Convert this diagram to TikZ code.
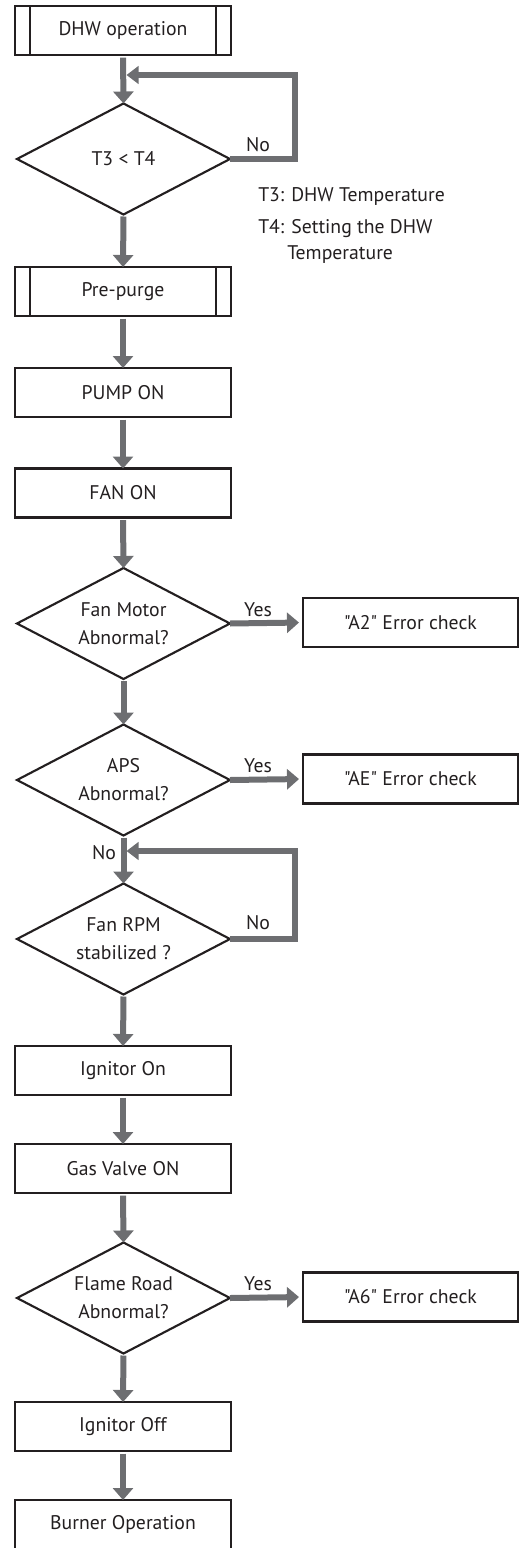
\documentclass[tikz,border=0pt]{standalone}
\usepackage{fontspec}
\setmainfont{PT Sans}[Ligatures=TeXOff]
\usetikzlibrary{shapes.geometric,arrows.meta,calc}
\definecolor{arrgray}{RGB}{109,110,113}
\definecolor{txt}{RGB}{35,31,32}
\begin{document}
\begin{tikzpicture}[x=0.75pt,y=-0.75pt,
  font=\fontsize{14.8pt}{21pt}\selectfont, text=txt,
  procbox/.style={draw=txt,line width=1.6pt,minimum width=162pt,minimum height=36.75pt,inner sep=0pt,outer sep=0pt,fill=white},
  errbox/.style={draw=txt,line width=1.6pt,minimum width=161.25pt,minimum height=36.75pt,inner sep=0pt,outer sep=0pt},
  predef/.style={procbox,
    append after command={
      \pgfextra{\let\mynode\tikzlastnode}
      ($(\mynode.north west)+(15,0)$) edge[draw=txt,line width=1.6pt] ($(\mynode.south west)+(15,0)$)
      ($(\mynode.north east)+(-15,0)$) edge[draw=txt,line width=1.6pt] ($(\mynode.south east)+(-15,0)$)
    }},
  decision/.style={diamond,draw=txt,line width=1.6pt,aspect=1.92,minimum width=159.75pt,minimum height=83.25pt,inner sep=0pt,outer sep=0pt,align=center},
  arr/.style={draw=arrgray,line width=4.5pt,-{Triangle[width=15pt,length=9pt]}},
  loopline/.style={draw=arrgray,line width=4.5pt,line join=miter,-{Triangle[width=13pt,length=9pt]}},
  lbl/.style={inner sep=0pt},
  note/.style={inner sep=0pt,anchor=west}
]
\useasboundingbox (0,0) rectangle (521,1548);

\node[predef] (dhw) at (123,30.5) {DHW operation};
\node[decision] (d1) at (123.5,159) {T3 < T4};
\node[predef] (pre) at (123,291.5) {Pre-purge};
\node[procbox] (pump) at (123,392.5) {PUMP ON};
\node[procbox] (fan) at (123,493) {FAN ON};
\node[decision] (d2) at (123.5,623.5) {Fan Motor\\Abnormal?};
\node[errbox] (a2) at (410.5,622.5) {"A2" Error check};
\node[decision] (d3) at (123.5,780) {APS\\Abnormal?};
\node[errbox] (ae) at (410.5,779) {"AE" Error check};
\node[decision] (d4) at (123.5,939) {Fan RPM\\stabilized ?};
\node[procbox] (ign) at (123,1070.5) {Ignitor On};
\node[procbox] (gas) at (123,1168.5) {Gas Valve ON};
\node[decision] (d5) at (123.5,1298) {Flame Road\\Abnormal?};
\node[errbox] (a6) at (410.5,1297) {"A6" Error check};
\node[procbox] (igoff) at (123,1426.5) {Ignitor Off};
\node[procbox] (burn) at (123,1524.5) {Burner Operation};

\node[note] (n3) at (258,196) {T3: DHW Temperature};
\node[note] (n4) at (258,229) {T4: Setting the DHW};
\node[note] (n4b) at (287,255) {Temperature};

% vertical flow
\draw[arr,shorten <=2pt] (dhw.south) -- (d1.north);
\draw[arr,shorten <=1.5pt] (d1.south) -- (pre.north);
\draw[arr,shorten <=2pt] (pre.south) -- (pump.north);
\draw[arr,shorten <=2pt] (pump.south) -- (fan.north);
\draw[arr,shorten <=2pt] (fan.south) -- (d2.north);
\draw[arr,shorten <=1.5pt] (d2.south) -- (d3.north);
\draw[arr,shorten <=1.5pt] (d3.south) -- (d4.north);
\draw[arr,shorten <=1.5pt] (d4.south) -- (ign.north);
\draw[arr,shorten <=2pt] (ign.south) -- (gas.north);
\draw[arr,shorten <=2pt] (gas.south) -- (d5.north);
\draw[arr,shorten <=1.5pt] (d5.south) -- (igoff.north);
\draw[arr,shorten <=2pt] (igoff.south) -- (burn.north);

% yes branches
\draw[arr,shorten >=3pt] (d2.east) -- (a2.west);
\draw[arr,shorten >=3pt] (d3.east) -- (ae.west);
\draw[arr,shorten >=3pt] (d5.east) -- (a6.west);

% loops
\coordinate (c1) at (295,75);
\coordinate (j1) at (126.5,75);
\draw[loopline] (d1.east) -| (c1) -- (j1);
\coordinate (c2) at (295,851);
\coordinate (j2) at (126.5,851);
\draw[loopline] (d4.east) -| (c2) -- (j2);

% labels
\node[lbl] (no1) at (258,145) {No};
\node[lbl] (no2) at (258,923) {No};
\node[lbl] (no3) at (104,853) {No};
\node[lbl] (y1) at (258,610) {Yes};
\node[lbl] (y2) at (258,766) {Yes};
\node[lbl] (y3) at (258,1284) {Yes};
\end{tikzpicture}
\end{document}
